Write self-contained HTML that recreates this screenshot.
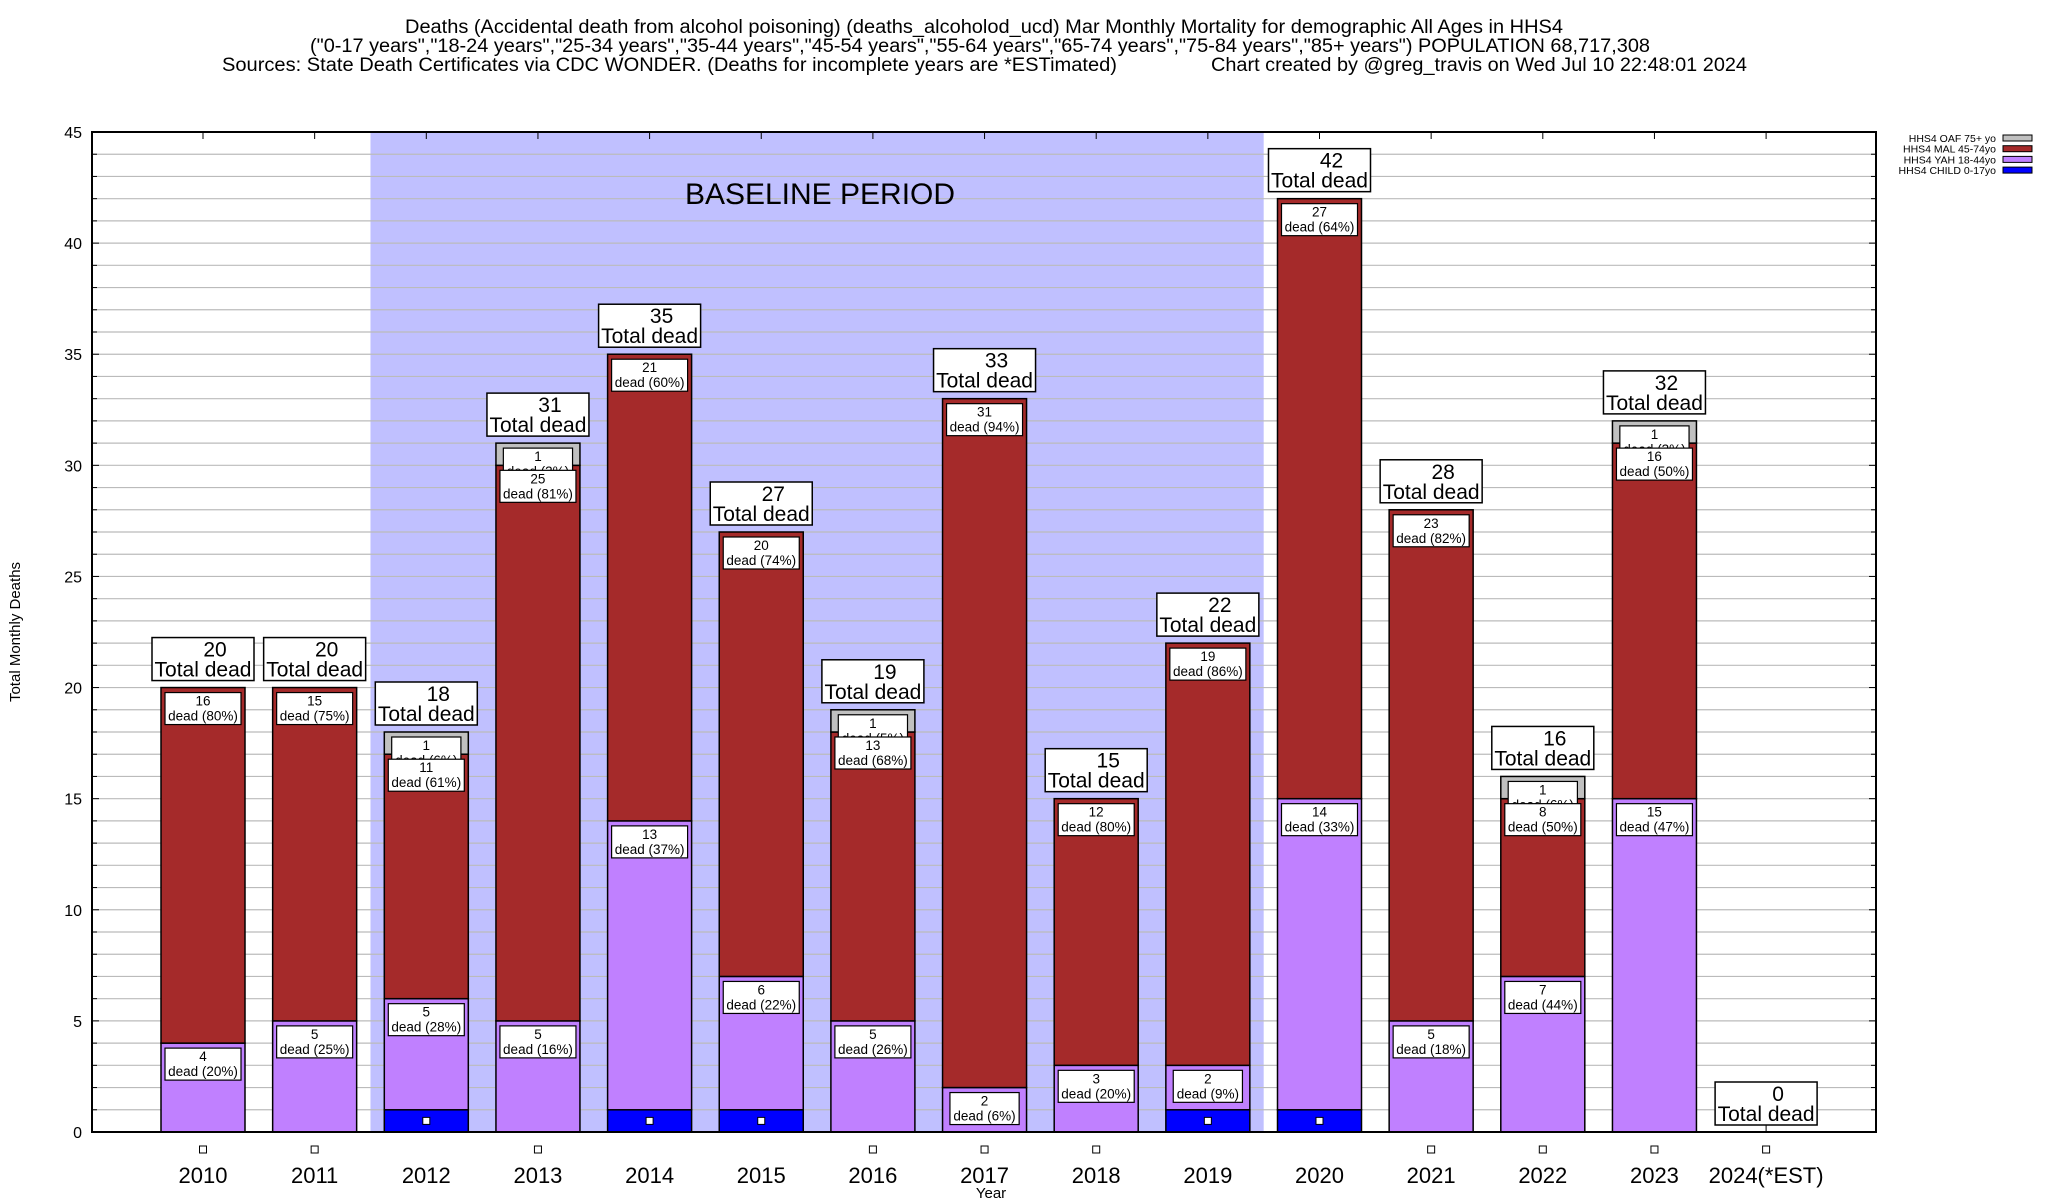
<!DOCTYPE html>
<html><head><meta charset="utf-8"><style>
html,body{margin:0;padding:0;background:#fff;}
svg{display:block;font-family:"Liberation Sans",Arial,sans-serif;}
</style></head><body>
<svg id="chart" width="2048" height="1200" viewBox="0 0 2048 1200">
<g font-size="19" text-anchor="middle">
<text x="984" y="33" textLength="1158" lengthAdjust="spacingAndGlyphs">Deaths (Accidental death from alcohol poisoning) (deaths_alcoholod_ucd) Mar Monthly Mortality for demographic All Ages in HHS4</text>
<text x="980" y="52" textLength="1340" lengthAdjust="spacingAndGlyphs">("0-17 years","18-24 years","25-34 years","35-44 years","45-54 years","55-64 years","65-74 years","75-84 years","85+ years") POPULATION 68,717,308</text>
<text x="222" y="71" text-anchor="start" textLength="895" lengthAdjust="spacingAndGlyphs">Sources: State Death Certificates via CDC WONDER. (Deaths for incomplete years are *ESTimated)</text>
<text x="1211" y="71" text-anchor="start" textLength="536" lengthAdjust="spacingAndGlyphs">Chart created by @greg_travis on Wed Jul 10 22:48:01 2024</text>
</g>
<g id="plot"></g>
</svg>
<script>
const categories=["2010","2011","2012","2013","2014","2015","2016","2017","2018","2019","2020","2021","2022","2023","2024(*EST)"];
const childValues=[0,0,1,0,1,1,0,0,0,1,1,0,0,0,0];
const yahValues=[4,5,5,5,13,6,5,2,3,2,14,5,7,15,0];
const malValues=[16,15,11,25,21,20,13,31,12,19,27,23,8,16,0];
const oafValues=[0,0,1,1,0,0,1,0,0,0,0,0,1,1,0];
const yTicks=[0,5,10,15,20,25,30,35,40,45];
const baselineRange=[1.5,9.5];
const legendLabels=["HHS4 OAF 75+ yo","HHS4 MAL 45-74yo","HHS4 YAH 18-44yo","HHS4 CHILD 0-17yo"];

const NS="http://www.w3.org/2000/svg";
const L=92,R=1876,T=132,B=1132,YMAX=45;
const x=i=>203+i*111.65;
const y=v=>B-(v/YMAX)*(B-T);
const BW=84;
const plot=document.getElementById('plot');
function mk(tag,attrs,parent,text){const e=document.createElementNS(NS,tag);for(const k in attrs)e.setAttribute(k,attrs[k]);if(text!==undefined)e.textContent=text;(parent||plot).appendChild(e);return e;}

const sh=mk('rect',{x:x(baselineRange[0]),y:T,width:x(baselineRange[1])-x(baselineRange[0]),height:B-T,fill:'#c0c0ff'});


for(let v=1;v<YMAX;v++){
 const g=mk('line',{x1:L,x2:R,y1:y(v),y2:y(v),stroke:'#bbb','stroke-width':1.2});
 
 
 const t=mk('line',{x1:L,x2:L+(v%5?5:7),y1:y(v),y2:y(v),stroke:'#000','stroke-width':1});
 
 
 const t2=mk('line',{x1:R,x2:R-(v%5?5:7),y1:y(v),y2:y(v),stroke:'#000','stroke-width':1});
 
 
}
const bl=mk('text',{x:820,y:204,'font-size':30,'text-anchor':'middle'},plot,'BASELINE PERIOD');


yTicks.forEach(v=>{
 const t=mk('text',{x:82,y:y(v)+6,'font-size':16,'text-anchor':'end'},plot,String(v));
 
 
});
const colors=['#0000ff','#c080ff','#a52a2a','#c0c0c0'];
const series=[childValues,yahValues,malValues,oafValues];
const segNames=['child-segment','yah-segment','mal-segment','oaf-segment'];
const labelQueue=[];
categories.forEach((c,i)=>{
 const tot=childValues[i]+yahValues[i]+malValues[i]+oafValues[i];
 let base=0;
 const tk=mk('line',{x1:x(i),x2:x(i),y1:T,y2:T+7,stroke:'#000'});
 
 
 const tb=mk('line',{x1:x(i),x2:x(i),y1:B,y2:B-7,stroke:'#000'});
 
 
 series.forEach((s,k)=>{
  const v=s[i]; if(!v) return;
  const r=mk('rect',{x:x(i)-BW/2,y:y(base+v),width:BW,height:y(base)-y(base+v),fill:colors[k],stroke:'#000','stroke-width':1.5});
  
  
  if(k===0){
   const sq=mk('rect',{x:x(i)-3.5,y:(y(base)+y(base+v))/2-3.5,width:7,height:7,fill:'#fff',stroke:'#000','stroke-width':1});
   
   
  } else {
   labelQueue.push({i,top:y(base+v),v,pct:Math.round(v/tot*100)});
  }
  base+=v;
 });
 if(!childValues[i]){
  const sq=mk('rect',{x:x(i)-3.5,y:1146,width:7,height:7,fill:'#fff',stroke:'#000','stroke-width':1});
  
  
 }
 const xl=mk('text',{x:x(i),y:1183,'font-size':22,'text-anchor':'middle'},plot,c);
 
 
 const g=mk('g',{});
 
 
 const by=y(tot)-50;
 mk('rect',{x:x(i)-51,y:by,width:102,height:43,fill:'#fff',stroke:'#000','stroke-width':1.5},g);
 mk('text',{x:x(i)+12,y:by+19,'font-size':21,'text-anchor':'middle'},g,String(tot));
 mk('text',{x:x(i),y:by+39,'font-size':21,'text-anchor':'middle'},g,'Total dead');
});
labelQueue.sort((a,b)=>a.top-b.top);
labelQueue.forEach(o=>{
 const g=mk('g',{});
 
 
 const t2='dead ('+o.pct+'%)';
 const w=t2.length*6.8+8;
 const by=o.top+5;
 mk('rect',{x:x(o.i)-w/2,y:by,width:w,height:32,fill:'#fff',stroke:'#000','stroke-width':1.2},g);
 mk('text',{x:x(o.i),y:by+13,'font-size':13.5,'text-anchor':'middle'},g,String(o.v));
 mk('text',{x:x(o.i),y:by+28,'font-size':13.5,'text-anchor':'middle'},g,t2);
});
const ax=mk('rect',{x:L,y:T,width:R-L,height:B-T,fill:'none',stroke:'#000','stroke-width':2});


const yt=mk('text',{x:0,y:0,'font-size':15,'text-anchor':'middle',transform:'translate(20,632) rotate(-90)'},plot,'Total Monthly Deaths');


const xt=mk('text',{x:991,y:1198,'font-size':15,'text-anchor':'middle'},plot,'Year');


const lc=['#c0c0c0','#a52a2a','#c080ff','#0000ff'];
legendLabels.forEach((s,k)=>{
 const g=mk('g',{});
 
 
 const yy=138+k*10.7;
 mk('text',{x:1996,y:yy+4,'font-size':10.5,'text-anchor':'end'},g,s);
 mk('rect',{x:2003,y:yy-3,width:29,height:6,fill:lc[k],stroke:'#000','stroke-width':1},g);
});
</script>
</body></html>
